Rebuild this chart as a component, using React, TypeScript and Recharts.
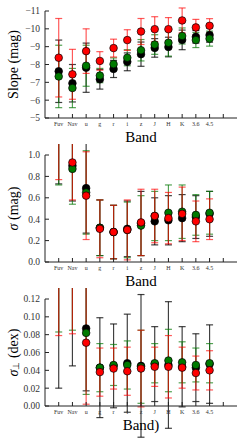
import { ComposedChart, Line, XAxis, YAxis, ErrorBar } from 'recharts';

// ── band positions ────────────────────────────────────────────────
const bands = ['Fuv', 'Nav', 'u', 'g', 'r', 'i', 'z', 'J', 'H', 'K', '3.6', '4.5'];
const bandTicks = [1, 2, 3, 4, 5, 6, 7, 8, 9, 10, 11, 12, 13];

// ── slope (mag) ───────────────────────────────────────────────────
const slopeBlack = [-7.62, -6.95, -7.82, -7.17, -7.75, -8.15, -8.58, -8.93, -8.98, -9.38, -9.55, -9.65];
const slopeBlackErr = [1.75, 1.05, 1.38, 0.55, 0.48, 0.5, 0.68, 0.52, 0.55, 0.55, 0.35, 0.4];
const slopeGreen = [-7.33, -6.68, -7.93, -7.38, -8.02, -8.38, -8.8, -9.12, -9.22, -9.6, -9.37, -9.45];
const slopeGreenErr = [1.75, 1.1, 1.15, 0.4, 0.35, 0.45, 0.6, 0.55, 0.75, 0.45, 0.42, 0.42];
const slopeRed = [-8.38, -7.45, -8.75, -8.2, -8.92, -9.37, -9.85, -9.98, -9.98, -10.47, -10.08, -10.17];
const slopeRedErr = [2.2, 1.4, 1.25, 0.52, 0.5, 0.58, 0.73, 0.7, 0.65, 0.7, 0.45, 0.4];
const slopeTicks = [-11, -10, -9, -8, -7, -6, -5];

// ── sigma (mag) ───────────────────────────────────────────────────
const sigBlack = [1.3, 0.9, 0.69, 0.32, 0.28, 0.31, 0.36, 0.38, 0.39, 0.41, 0.42, 0.45];
const sigBlackErr = [0.57, 0.33, 0.42, 0.26, 0.25, 0.26, 0.3, 0.22, 0.23, 0.22, 0.2, 0.21];
const sigGreen = [1.27, 0.87, 0.65, 0.32, 0.28, 0.3, 0.34, 0.43, 0.46, 0.47, 0.44, 0.46];
const sigGreenErr = [0.55, 0.33, 0.39, 0.26, 0.25, 0.26, 0.28, 0.23, 0.26, 0.25, 0.19, 0.2];
const sigRed = [1.3, 0.93, 0.62, 0.31, 0.28, 0.3, 0.37, 0.43, 0.41, 0.45, 0.38, 0.4];
const sigRedErr = [0.53, 0.35, 0.41, 0.27, 0.25, 0.28, 0.31, 0.25, 0.24, 0.25, 0.19, 0.19];
const sigTicks = [0, 0.2, 0.4, 0.6, 0.8, 1.0];

// ── sigma perp (dex) ──────────────────────────────────────────────
const perpBlack = [0.13, 0.13, 0.087, 0.043, 0.045, 0.048, 0.045, 0.047, 0.046, 0.044, 0.043, 0.047];
const perpBlackErr = [0.11, 0.085, 0.07, 0.056, 0.047, 0.055, 0.08, 0.042, 0.071, 0.045, 0.038, 0.044];
const perpGreen = [0.15, 0.14, 0.082, 0.043, 0.046, 0.046, 0.044, 0.048, 0.051, 0.049, 0.046, 0.048];
const perpGreenErr = [0.067, 0.055, 0.069, 0.027, 0.023, 0.027, 0.041, 0.022, 0.035, 0.023, 0.019, 0.022];
const perpRed = [0.15, 0.14, 0.071, 0.038, 0.042, 0.039, 0.042, 0.044, 0.044, 0.043, 0.037, 0.04];
const perpRedErr = [0.071, 0.059, 0.069, 0.027, 0.023, 0.027, 0.043, 0.022, 0.035, 0.023, 0.019, 0.022];
const perpTicks = [0, 0.02, 0.04, 0.06, 0.08, 0.1, 0.12];

const FONT = 'Liberation Serif, Times New Roman, serif';

function buildRows(b: number[], be: number[], g: number[], ge: number[], r: number[], re: number[]) {
  return bands.map((name, i) => ({
    x: i + 1,
    name,
    black: b[i],
    blackErr: be[i],
    green: g[i],
    greenErr: ge[i],
    red: r[i],
    redErr: re[i],
  }));
}

const slopeRows = buildRows(slopeBlack, slopeBlackErr, slopeGreen, slopeGreenErr, slopeRed, slopeRedErr);
const sigRows = buildRows(sigBlack, sigBlackErr, sigGreen, sigGreenErr, sigRed, sigRedErr);
const perpRows = buildRows(perpBlack, perpBlackErr, perpGreen, perpGreenErr, perpRed, perpRedErr);

const SERIES = [
  { key: 'black', fill: '#000000', bar: '#000000', barOpacity: 0.75 },
  { key: 'green', fill: '#007a00', bar: '#0a7a0a', barOpacity: 0.7 },
  { key: 'red', fill: '#ff0000', bar: '#ff0000', barOpacity: 0.65 },
];

// ══════════════════════════════════════════════════════════════════
// AXIS LABELS
// ══════════════════════════════════════════════════════════════════

function XLab({ viewBox, text }: any) {
  if (!viewBox) return null;
  return (
    <text x={viewBox.x + viewBox.width / 2} y={viewBox.y + 24} textAnchor="middle"
      fontFamily={FONT} fontSize={15} fill="#000">
      {text}
    </text>
  );
}

function YLab({ viewBox, children }: any) {
  if (!viewBox) return null;
  const cx = 13;
  const cy = viewBox.y + viewBox.height / 2;
  return (
    <text x={cx} y={cy} transform={`rotate(-90 ${cx} ${cy})`} textAnchor="middle"
      dominantBaseline="central" fontFamily={FONT} fontSize={14} fill="#000">
      {children}
    </text>
  );
}

// ══════════════════════════════════════════════════════════════════
// PANEL
// ══════════════════════════════════════════════════════════════════

interface PanelProps {
  data: any[];
  domain: [number, number];
  ticks: number[];
  reversed?: boolean;
  fmt: (v: number) => string;
  yLabel: any;
  xLabel: string;
  top: number;
}

function Panel({ data, domain, ticks, reversed, fmt, yLabel, xLabel, top }: PanelProps) {
  const axisStroke = '#222';
  return (
    <div style={{ position: 'absolute', left: 0, top, width: 242, height: 150 }}>
      <ComposedChart width={242} height={150} data={data}
        margin={{ top: 11, right: 5, bottom: 0, left: 0 }}>
        <XAxis xAxisId="b" dataKey="x" type="number" domain={[0, 14]} ticks={bandTicks}
          tickFormatter={(v: number) => bands[v - 1] ?? ''} height={32} tickSize={-4} tickMargin={8}
          interval={0} stroke={axisStroke}
          tick={{ fontSize: 6, fill: '#333', fontFamily: FONT }}
          label={<XLab text={xLabel} />} />
        <XAxis xAxisId="t" orientation="top" type="number" domain={[0, 14]} ticks={bandTicks}
          height={0} tickSize={-4} tick={false} stroke={axisStroke} />
        <YAxis yAxisId="l" type="number" domain={domain} ticks={ticks} reversed={reversed}
          allowDataOverflow width={45} tickSize={-4} tickMargin={9} interval={0}
          tickFormatter={fmt} stroke={axisStroke}
          tick={{ fontSize: 9.5, fill: '#333', fontFamily: FONT }}
          label={<YLab>{yLabel}</YLab>} />
        <YAxis yAxisId="r" orientation="right" type="number" domain={domain} ticks={ticks}
          reversed={reversed} allowDataOverflow width={0} tickSize={-4} tick={false}
          stroke={axisStroke} />
        {SERIES.map((s) => (
          <Line key={s.key} xAxisId="b" yAxisId="l" dataKey={s.key} stroke="none"
            isAnimationActive={false} activeDot={false} legendType="none"
            dot={{ r: 3.8, fill: s.fill, stroke: '#000', strokeWidth: 0.7, fillOpacity: 1 }}>
            <ErrorBar dataKey={`${s.key}Err`} direction="y" width={3.5} stroke={s.bar}
              strokeWidth={1.2} strokeOpacity={s.barOpacity} />
          </Line>
        ))}
      </ComposedChart>
    </div>
  );
}

const minus = (s: string) => s.replace('-', '\u2212');

export default function App() {
  return (
    <div style={{ position: 'absolute', left: 0, top: 0, width: 242, height: 438, background: '#fff' }}>
      <Panel data={slopeRows} domain={[-11, -5]} ticks={slopeTicks} reversed
        fmt={(v) => minus(String(v))} yLabel="Slope (mag)" xLabel="Band" top={0} />
      <Panel data={sigRows} domain={[0, 1]} ticks={sigTicks}
        fmt={(v) => v.toFixed(1)}
        yLabel={<><tspan fontStyle="italic">σ</tspan><tspan> (mag)</tspan></>}
        xLabel="Band" top={144} />
      <Panel data={perpRows} domain={[0, 0.12]} ticks={perpTicks}
        fmt={(v) => v.toFixed(2)}
        yLabel={<><tspan fontStyle="italic">σ</tspan><tspan fontSize={9} dy={3}>⊥</tspan><tspan dy={-3}> (dex)</tspan></>}
        xLabel="Band)" top={288} />
    </div>
  );
}
